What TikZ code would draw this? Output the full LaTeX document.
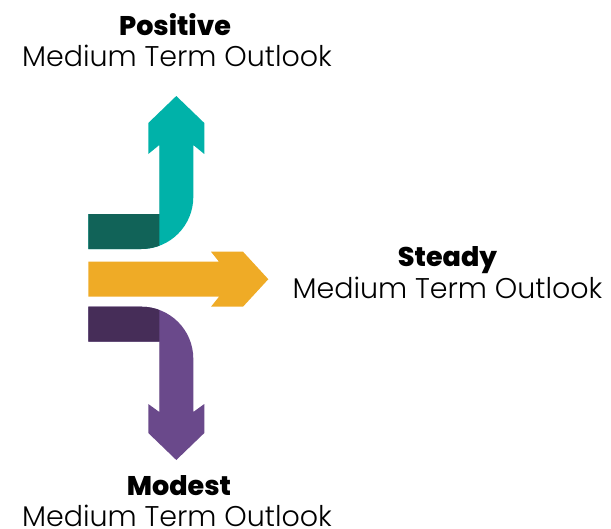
\documentclass[tikz,border=0pt]{standalone}
\usepackage{fontspec}
\setmainfont{Poppins}
\newfontfamily\lightfont{Poppins Light}
\newfontfamily\heavyfont{Poppins ExtraBold}
\definecolor{tealA}{HTML}{00B2A9}
\definecolor{tealD}{HTML}{116358}
\definecolor{orangeA}{HTML}{EFAB26}
\definecolor{purpA}{HTML}{6A498B}
\definecolor{purpD}{HTML}{462D58}
\tikzset{
  title/.style={anchor=base,inner sep=0pt,font=\fontsize{27}{30}\selectfont\heavyfont,text=black},
  subtitle/.style={anchor=base,inner sep=0pt,font=\fontsize{28.5}{30}\selectfont\lightfont,text=black}
}
\begin{document}
\begin{tikzpicture}[x=1pt,y=-1pt]
\useasboundingbox (0,0) rectangle (611,528);
% up arrow
\fill[tealA] (88.3,214) -- (159.3,214) -- (159.3,145) -- (148.3,154) -- (148.3,123) -- (176.3,96) -- (204.3,123) -- (204.3,154) -- (193.3,145) -- (193.3,197) .. controls (193.3,225.7) and (170,249) .. (141.3,249) -- (88.3,249) -- cycle;
\begin{scope}
\clip (0,0) rectangle (159.3,528);
\fill[tealD] (88.3,214) -- (159.3,214) -- (159.3,145) -- (193.3,145) -- (193.3,197) .. controls (193.3,225.7) and (170,249) .. (141.3,249) -- (88.3,249) -- cycle;
\end{scope}
% middle arrow
\fill[orangeA] (88.3,261.7) -- (219,261.7) -- (211,251.7) -- (243,251.7) -- (268.3,279.2) -- (243,306.7) -- (211,306.7) -- (219,296.7) -- (88.3,296.7) -- cycle;
% down arrow
\fill[purpA] (88.3,306.7) -- (141.3,306.7) .. controls (170,306.7) and (193.3,330) .. (193.3,358.7) -- (193.3,412) -- (204.3,404) -- (204.3,433) -- (176.3,460) -- (148.3,433) -- (148.3,404) -- (159.3,412) -- (159.3,341.7) -- (88.3,341.7) -- cycle;
\begin{scope}
\clip (0,0) rectangle (159.3,528);
\fill[purpD] (88.3,306.7) -- (141.3,306.7) .. controls (170,306.7) and (193.3,330) .. (193.3,358.7) -- (193.3,412) -- (159.3,412) -- (159.3,341.7) -- (88.3,341.7) -- cycle;
\end{scope}
% labels
\node[title] (pos) at (175,35) {Positive};
\node[subtitle] (posb) at (177,66.5) {Medium Term Outlook};
\node[title] (ste) at (447.5,266.7) {Steady};
\node[subtitle] (steb) at (447.5,298.3) {Medium Term Outlook};
\node[title] (mod) at (179,495) {Modest};
\node[subtitle] (modb) at (177,526) {Medium Term Outlook};
\end{tikzpicture}
\end{document}
